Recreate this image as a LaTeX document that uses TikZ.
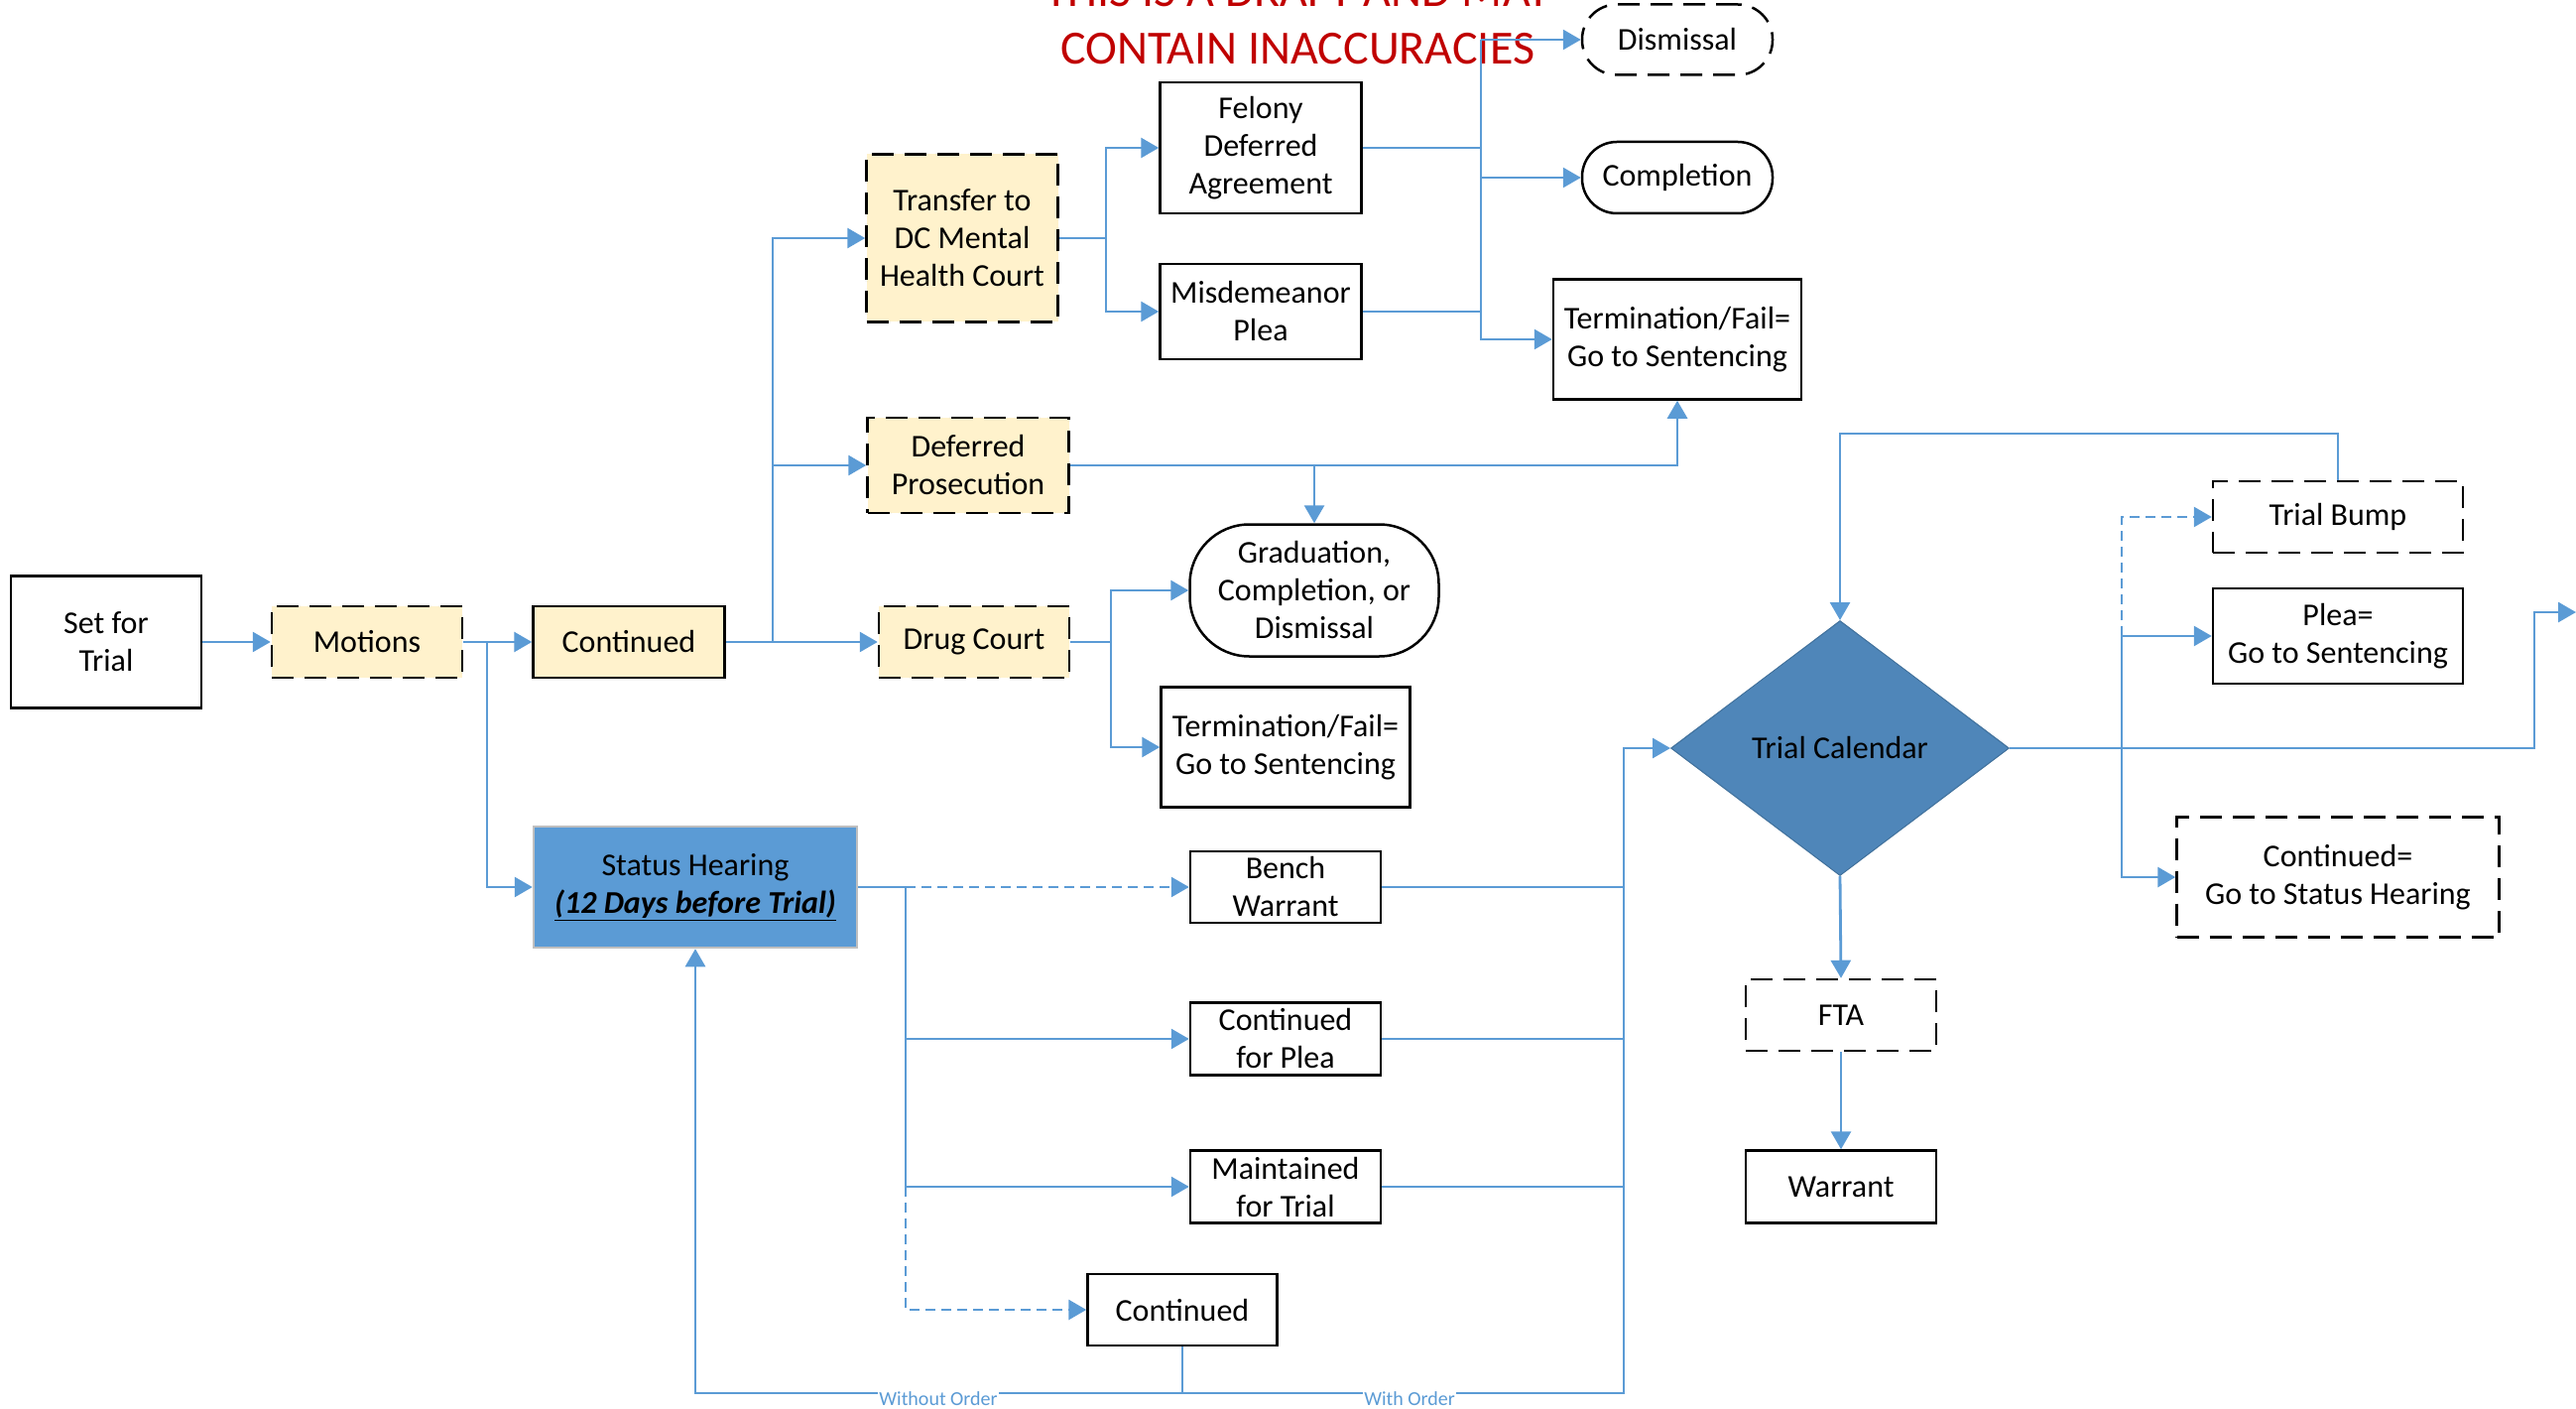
\documentclass[tikz,border=0pt]{standalone}
\usepackage{fontspec}
\setmainfont{Carlito}
\usetikzlibrary{arrows.meta,shapes.geometric,calc}
\definecolor{lineblue}{RGB}{91,155,213}
\definecolor{creamc}{RGB}{255,242,204}
\definecolor{shblue}{RGB}{91,155,213}
\definecolor{tcblue}{RGB}{79,134,185}
\definecolor{tcedge}{RGB}{65,113,156}
\definecolor{draftred}{RGB}{192,0,0}
\definecolor{shborder}{RGB}{191,191,191}
\newcommand{\bodyfont}{\fontsize{32pt}{38pt}\selectfont}
\newcommand{\smallblue}{\fontsize{20pt}{24pt}\selectfont}
\begin{document}
\begin{tikzpicture}[x=1pt,y=-1pt,
  nd/.style={draw=black,line width=2.5pt,inner sep=0pt,align=center,font=\bodyfont,fill=white},
  solidbox/.style={nd,rectangle},
  dashbox/.style={nd,rectangle,dash pattern=on 22pt off 11pt},
  creambox/.style={fill=creamc},
  stadium/.style={nd,rectangle,rounded corners=#1},
  sz/.style 2 args={minimum width=#1pt,minimum height=#2pt},
  conn/.style={draw=lineblue,line width=2.8pt},
  arr/.style={conn,-{Triangle[length=18pt,width=20pt]}},
  bdash/.style={dash pattern=on 10pt off 6pt},
  lbl/.style={font=\smallblue,text=lineblue,fill=white,inner sep=1pt}
]
\fill[white] (0,0) rectangle (2597,1420);
\useasboundingbox (0,0) rectangle (2597,1420);

% title
\node[font=\fontsize{48pt}{58pt}\selectfont,text=draftred,align=center,inner sep=0pt] (title) at (1308,20.5) {THIS IS A DRAFT AND MAY\\CONTAIN INACCURACIES};

% left chain
\node[solidbox,sz={192}{133}] (set) at (107,647) {Set for\\Trial};
\node[dashbox,creambox,sz={192}{72}] (motions) at (370,647) {Motions};
\node[solidbox,creambox,sz={193}{72}] (cont) at (634,647) {Continued};
\node[dashbox,creambox,sz={192}{72}] (drug) at (982,647) {Drug Court};
\node[dashbox,creambox,sz={203}{96}] (deferred) at (976,469) {Deferred\\Prosecution};
\node[dashbox,creambox,sz={193}{169}] (transfer) at (970,240) {Transfer to\\DC Mental\\Health Court};

% mental health branch
\node[solidbox,sz={203}{132}] (felony) at (1271,149) {Felony\\Deferred\\Agreement};
\node[solidbox,sz={203}{96}] (misd) at (1271,314) {Misdemeanor\\Plea};
\node[stadium=35pt,dash pattern=on 22pt off 11pt,sz={192}{71}] (dismissal) at (1691,40) {Dismissal};
\node[stadium=35pt,sz={192}{72}] (completion) at (1691,179) {Completion};
\node[solidbox,sz={250}{121}] (term1) at (1691,342) {Termination/Fail=\\Go to Sentencing};

% drug court branch
\node[stadium=60pt,sz={251}{133}] (grad) at (1325,595) {Graduation,\\Completion, or\\Dismissal};
\node[solidbox,sz={251}{121}] (term2) at (1296,753) {Termination/Fail=\\Go to Sentencing};

% status hearing
\node[nd,rectangle,fill=shblue,draw=shborder,sz={326}{122}] (status) at (701,894) {Status Hearing\\\textbf{\textit{\underline{(12 Days before Trial)}}}};
\node[solidbox,sz={192}{72}] (bench) at (1296,894) {Bench\\Warrant};
\node[solidbox,sz={192}{73}] (plea2) at (1296,1047) {Continued\\for Plea};
\node[solidbox,sz={192}{73}] (maint) at (1296,1196) {Maintained\\for Trial};
\node[solidbox,sz={191}{72}] (cont2) at (1192,1320) {Continued};

% trial calendar
\node[diamond,fill=tcblue,draw=tcedge,line width=1pt,inner sep=0pt,minimum width=341pt,minimum height=257pt,font=\bodyfont] (tc) at (1855,754) {Trial Calendar};
\node[dashbox,sz={252}{72}] (bump) at (2357,521) {Trial Bump};
\node[solidbox,sz={252}{96}] (plea3) at (2357,641) {Plea=\\Go to Sentencing};
\node[dashbox,sz={325}{121}] (contsh) at (2357,884) {Continued=\\Go to Status Hearing};
\node[dashbox,sz={192}{72}] (fta) at (1856,1023) {FTA};
\node[solidbox,sz={192}{73}] (warrant) at (1856,1196) {Warrant};

% junction coordinates
\coordinate (j1) at (491,647);
\coordinate (j2) at (779,647);
\coordinate (j3) at (1115,240);
\coordinate (c4) at (1493,40);
\coordinate (j6) at (1120,647);
\coordinate (j7) at (913,894);
\coordinate (j8) at (1637,754);
\coordinate (bl) at (1192,1404);
\coordinate (jt) at (2357,437);
\coordinate (j9) at (2139,754);
\coordinate (jr) at (2555,617);
\coordinate (edge) at (2597,617);

% connectors: left chain
\draw[arr] (set.east) -- (motions.west);
\draw[arr] (motions.east) -- (cont.west);
\draw[arr] (j1) |- (status.west);
\draw[arr] (cont.east) -- (drug.west);
\draw[arr] (j2) |- (transfer.west);
\draw[arr] (j2 |- deferred.west) -- (deferred.west);

% mental health court
\draw[conn] (transfer.east) -- (j3);
\draw[arr] (j3) |- (felony.west);
\draw[arr] (j3) |- (misd.west);
\draw[conn] (felony.east) -- (felony.east -| c4);
\draw[conn] (misd.east) -- (misd.east -| c4);
\draw[arr] (c4) -- (dismissal.west);
\draw[arr] (c4 |- completion.west) -- (completion.west);
\draw[arr] (c4) |- (term1.west);

% deferred prosecution
\draw[arr] (deferred.east) -| (term1.south);
\draw[arr] (deferred.east -| grad.north) -- (grad.north);

% drug court
\draw[conn] (drug.east) -- (j6);
\draw[arr] (j6) |- (grad.west);
\draw[arr] (j6) |- (term2.west);

% status hearing outcomes
\draw[conn] (status.east) -- (j7);
\draw[arr,bdash] (j7) -- (bench.west);
\draw[conn] (j7) -- (j7 |- maint.west);
\draw[arr] (j7 |- plea2.west) -- (plea2.west);
\draw[arr] (j7 |- maint.west) -- (maint.west);
\draw[arr,bdash] (j7 |- maint.west) |- (cont2.west);
\draw[conn] (bench.east) -- (bench.east -| j8);
\draw[conn] (plea2.east) -- (plea2.east -| j8);
\draw[conn] (maint.east) -- (maint.east -| j8);
\draw[conn] (cont2.south) -- (bl);
\draw[arr] (bl) -| (status.south);
\draw[arr] (bl) -| (j8) -- (tc.west);
\node[lbl] (without) at (946,1410) {Without Order};
\node[lbl] (with) at (1421,1410) {With Order};

% trial calendar outcomes
\draw[arr] (bump.north) -- (jt) -| (tc.north);
\draw[arr] (tc.east) -| (jr) -- (edge);
\draw[arr] (j9 |- plea3.west) -- (plea3.west);
\draw[conn] (j9 |- plea3.west) -- (j9);
\draw[arr] (j9) |- (contsh.west);
\draw[arr,bdash] (j9 |- plea3.west) |- (bump.west);
\draw[arr] (tc.south) -- (fta.north);
\draw[arr] (fta.south) -- (warrant.north);
\end{tikzpicture}
\end{document}
